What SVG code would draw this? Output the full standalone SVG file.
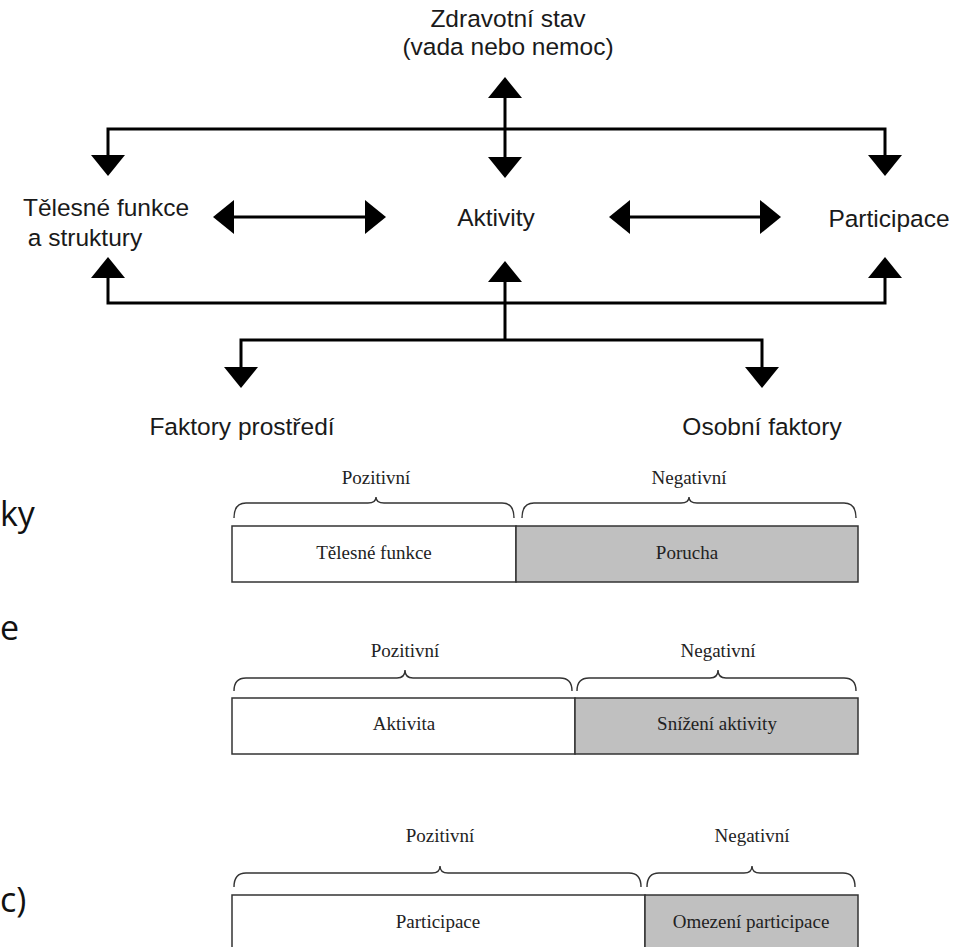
<svg xmlns="http://www.w3.org/2000/svg" width="965" height="947" viewBox="0 0 965 947">
<style>
.sans{font-family:"Liberation Sans",Arial,sans-serif;font-size:24.5px;fill:#1a1a1a;text-anchor:middle}
.big{font-family:"Open Sans","Liberation Sans",sans-serif;font-size:34px;fill:#111}
.serif{font-family:"Liberation Serif","Times New Roman",serif;font-size:19px;fill:#222;text-anchor:middle}
.conn{fill:none;stroke:#000;stroke-width:3;marker-start:url(#ah);marker-end:url(#ah)}
.brace{fill:none;stroke:#333;stroke-width:1.4}
.box{stroke:#333;stroke-width:1.5}
</style>
<defs>
<marker id="ah" viewBox="0 0 21 34" markerWidth="21" markerHeight="34" refX="0" refY="17" orient="auto-start-reverse" markerUnits="userSpaceOnUse">
<path d="M0,0 L21,17 L0,34 z" fill="#000"/>
</marker>
</defs>
<rect width="965" height="947" fill="#fff"/>
<g id="connectors">
<path class="conn" d="M505,98 L505,157"/>
<path class="conn" d="M108,155 L108,129 L885,129 L885,155"/>
<path class="conn" d="M108,278 L108,303 L885,303 L885,278"/>
<path class="conn" d="M505,282 L505,340" style="marker-end:none"/>
<path class="conn" d="M241,367 L241,340 L762,340 L762,367"/>
<path class="conn" d="M234,217 L365,217"/>
<path class="conn" d="M630,217 L760,217"/>
</g>
<g id="node-zdravotni-stav">
<text class="sans" x="508" y="27">Zdravotní stav</text>
<text class="sans" x="508" y="55">(vada nebo nemoc)</text>
</g>
<g id="node-telesne-funkce">
<text class="sans" x="106" y="216">Tělesné funkce</text>
<text class="sans" x="85" y="246">a struktury</text>
</g>
<g id="node-aktivity">
<text class="sans" x="496" y="226">Aktivity</text>
</g>
<g id="node-participace">
<text class="sans" x="889" y="227">Participace</text>
</g>
<g id="node-faktory-prostredi">
<text class="sans" x="242" y="435">Faktory prostředí</text>
</g>
<g id="node-osobni-faktory">
<text class="sans" x="762" y="435">Osobní faktory</text>
</g>
<g id="side-text">
<text class="big" x="0" y="526">ky</text>
<text class="big" x="0" y="640">e</text>
<text class="big" x="0" y="912">c)</text>
</g>
<g id="table-telesne-funkce">
<text class="serif" x="376" y="484">Pozitivní</text>
<text class="serif" x="689" y="484">Negativní</text>
<path class="brace" d="M234,518 Q234,503 246,503 L368,503 Q376,503 376,497 Q376,503 384,503 L502,503 Q514,503 514,518"/>
<path class="brace" d="M522,518 Q522,503 534,503 L681,503 Q689,503 689,497 Q689,503 697,503 L844,503 Q856,503 856,518"/>
<rect class="box" x="232" y="526" width="284" height="56" fill="#fff"/>
<rect class="box" x="516" y="526" width="342" height="56" fill="#c0c0c0"/>
<text class="serif" x="374" y="559">Tělesné funkce</text>
<text class="serif" x="687" y="559">Porucha</text>
</g>
<g id="table-aktivita">
<text class="serif" x="405" y="657">Pozitivní</text>
<text class="serif" x="718" y="657">Negativní</text>
<path class="brace" d="M234,691 Q234,678 246,678 L397,678 Q405,678 405,670 Q405,678 413,678 L560,678 Q572,678 572,691"/>
<path class="brace" d="M577,691 Q577,678 589,678 L710,678 Q718,678 718,670 Q718,678 726,678 L844,678 Q856,678 856,691"/>
<rect class="box" x="232" y="698" width="343" height="56" fill="#fff"/>
<rect class="box" x="575" y="698" width="283" height="56" fill="#c0c0c0"/>
<text class="serif" x="404" y="730">Aktivita</text>
<text class="serif" x="717" y="730">Snížení aktivity</text>
</g>
<g id="table-participace">
<text class="serif" x="440" y="842">Pozitivní</text>
<text class="serif" x="752" y="842">Negativní</text>
<path class="brace" d="M234,887 Q234,873 246,873 L432,873 Q440,873 440,866 Q440,873 448,873 L629,873 Q641,873 641,887"/>
<path class="brace" d="M647,887 Q647,873 659,873 L744,873 Q752,873 752,866 Q752,873 760,873 L843,873 Q855,873 855,887"/>
<rect class="box" x="232" y="895" width="413" height="70" fill="#fff"/>
<rect class="box" x="645" y="895" width="213" height="70" fill="#c0c0c0"/>
<text class="serif" x="438" y="928">Participace</text>
<text class="serif" x="751" y="928">Omezení participace</text>
</g>
</svg>
